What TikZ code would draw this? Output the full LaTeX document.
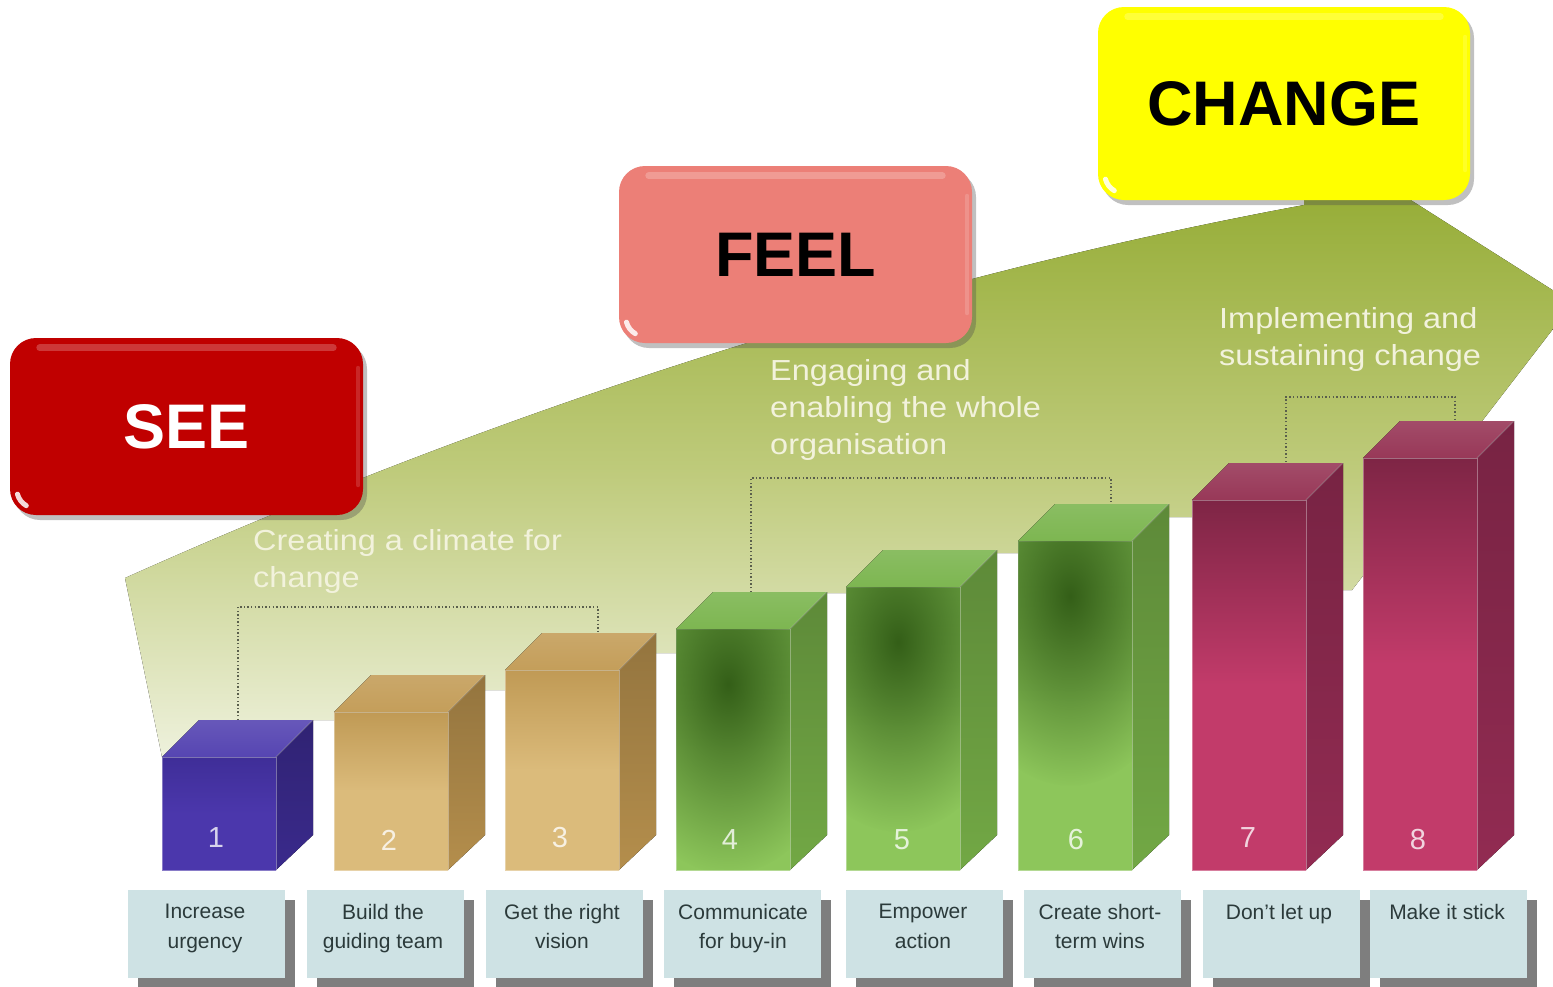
\documentclass[tikz,border=0pt]{standalone}
\usepackage{fontspec}
\setmainfont{Liberation Sans}
\usetikzlibrary{shadows,fadings,calc}
\definecolor{seered}{HTML}{C00000}
\definecolor{feelpink}{HTML}{EC7F77}
\definecolor{changeyel}{HTML}{FFFF00}
\definecolor{arrtop}{HTML}{96AD37}
\definecolor{arrmid}{HTML}{BFCB7C}
\definecolor{arrbot}{HTML}{EEF1DC}
\definecolor{lblue}{HTML}{CEE2E4}
\definecolor{lshadow}{HTML}{7E7E7E}
\definecolor{lbltxt}{HTML}{2B3A3A}
\definecolor{phasetxt}{HTML}{F2F2DC}
\definecolor{dotcol}{HTML}{5A5F4C}
% bar colours
\definecolor{purFt}{HTML}{3F2E98}\definecolor{purFb}{HTML}{4B37AC}
\definecolor{purT}{HTML}{5645B2}\definecolor{purS}{HTML}{3A2A8C}
\definecolor{golFt}{HTML}{C09A55}\definecolor{golFb}{HTML}{DBBB7B}
\definecolor{golT}{HTML}{C49E5A}\definecolor{golS}{HTML}{B48E4C}
\definecolor{grnFt}{HTML}{7DB650}\definecolor{grnFb}{HTML}{8DC65B}
\definecolor{grnT}{HTML}{7DB651}\definecolor{grnS}{HTML}{72A845}
\definecolor{grnSpot}{HTML}{345F18}
\definecolor{crmFt}{HTML}{7E2545}\definecolor{crmFb}{HTML}{C23B6A}
\definecolor{crmT}{HTML}{983858}\definecolor{crmS}{HTML}{922B52}
\tikzfading[name=spotfade, inner color=transparent!0, outer color=transparent!100]
% bar: #1 x-left, #2 y-top (front), #3 front top col, #4 front bottom col, #5 top face, #6 side
\newcommand\kotbar[6]{%
  \fill[top color=#3, bottom color=#4, middle color=#4] (#1,#2) rectangle ({#1+114},870);
  \fill[top color=#5!90!white, bottom color=#5] (#1,#2) -- ({#1+37},{#2-37}) -- ({#1+151},{#2-37}) -- ({#1+114},#2) -- cycle;
  \fill[top color=#6!82!black, bottom color=#6] ({#1+114},#2) -- ({#1+151},{#2-37}) -- ({#1+151},835) -- ({#1+114},870) -- cycle;
  \draw[white, opacity=.35, line width=1pt] (#1,870) -- (#1,#2) -- ({#1+114},#2) -- ({#1+114},870) -- cycle;
  \draw[white, opacity=.3, line width=.8pt] ({#1+114},#2) -- ({#1+151},{#2-37});
}
\newcommand\greenspot[2]{%
  \begin{scope}
    \clip (#1,#2) rectangle ({#1+114},870);
    \fill[grnSpot, path fading=spotfade] ({#1+52},{#2+55}) ellipse (125pt and 190pt);
  \end{scope}
}
\newcommand\wx[1]{\scalebox{1.12}[1]{#1}}
\begin{document}
\begin{tikzpicture}[x=1pt,y=-1pt,
  gbox/.style={rounded corners=26pt, inner sep=0pt,
     font=\fontsize{63}{63}\selectfont\bfseries,
     drop shadow={shadow xshift=4pt, shadow yshift=-5pt, opacity=.35, fill=black!70}},
  phase/.style={text=phasetxt, align=left, inner sep=0pt, anchor=north west,
     font=\fontsize{29}{37}\selectfont},
  lblbox/.style={fill=lblue, minimum width=157pt, minimum height=88pt, inner sep=0pt,
     general shadow={fill=lshadow, shadow xshift=10pt, shadow yshift=-10pt}},
  lbltext/.style={text=lbltxt, align=center, inner sep=0pt, anchor=north,
     font=\fontsize{21}{29.5}\selectfont},
  num/.style={text=white, text opacity=.78, inner sep=0pt, font=\fontsize{29}{29}\selectfont},
  bracket/.style={draw=dotcol, line width=1.3pt, dash pattern=on 1.4pt off 2.2pt}]
\useasboundingbox (0,0) rectangle (1553,986);
\fill[white] (0,0) rectangle (1553,986);

% big rising arrow
\begin{scope}
\clip (0,0) rectangle (1553,986);
\fill[top color=arrtop, bottom color=arrbot, middle color=arrmid]
  (125,578) .. controls (500,410) and (900,280) .. (1304,205) -- (1304,192) -- (1398,192)
  -- (1573,303) -- (1352,590) -- (1343,590) -- (1192,517) -- (1166,517)
  -- (1018,553) -- (996,553) -- (846,593) -- (824,593) -- (676,653) -- (654,653)
  -- (505,690) -- (484,690) -- (334,720) -- (313,720) -- (162,757) -- cycle;
\end{scope}

% phase texts
\node[phase] (ph1) at (253,529) {\wx{Creating a climate for}\\\wx{change}};
\node[phase] (ph2) at (770,359) {\wx{Engaging and}\\\wx{enabling the whole}\\\wx{organisation}};
\node[phase] (ph3) at (1219,307) {\wx{Implementing and}\\\wx{sustaining change}};

% dotted brackets
\coordinate (k1a) at (238,720); \coordinate (k1b) at (598,632);
\coordinate (k2a) at (751,592); \coordinate (k2b) at (1111,503);
\coordinate (k3a) at (1286,462); \coordinate (k3b) at (1455,420);
\draw[bracket] (k1a) -- (238,607) -- (598,607) -- (k1b);
\draw[bracket] (k2a) -- (751,478) -- (1111,478) -- (k2b);
\draw[bracket] (k3a) -- (1286,397) -- (1455,397) -- (k3b);

% bars
\kotbar{162}{757}{purFt}{purFb}{purT}{purS}
\kotbar{334}{712}{golFt}{golFb}{golT}{golS}
\kotbar{505}{670}{golFt}{golFb}{golT}{golS}
\kotbar{676}{629}{grnFt}{grnFb}{grnT}{grnS}
\greenspot{676}{629}
\kotbar{846}{587}{grnFt}{grnFb}{grnT}{grnS}
\greenspot{846}{587}
\kotbar{1018}{541}{grnFt}{grnFb}{grnT}{grnS}
\greenspot{1018}{541}
\kotbar{1192}{500}{crmFt}{crmFb}{crmT}{crmS}
\kotbar{1363}{458}{crmFt}{crmFb}{crmT}{crmS}

% numbers
\node[num] (n1) at (216,838) {1};
\node[num] (n2) at (389,840) {2};
\node[num] (n3) at (560,838) {3};
\node[num] (n4) at (730,840) {4};
\node[num] (n5) at (902,840) {5};
\node[num] (n6) at (1076,840) {6};
\node[num] (n7) at (1248,838) {7};
\node[num] (n8) at (1418,840) {8};

% label boxes
\node[lblbox] (b1) at (206.5,934) {};
\node[lblbox] (b2) at (385.5,934) {};
\node[lblbox] (b3) at (564.5,934) {};
\node[lblbox] (b4) at (742.5,934) {};
\node[lblbox] (b5) at (924.5,934) {};
\node[lblbox] (b6) at (1102.5,934) {};
\node[lblbox] (b7) at (1281.5,934) {};
\node[lblbox] (b8) at (1448.5,934) {};
\node[lbltext] (l1) at (205,904) {Increase\\urgency};
\node[lbltext] (l2) at (383,904) {Build the\\guiding team};
\node[lbltext] (l3) at (562,904) {Get the right\\vision};
\node[lbltext] (l4) at (743,904) {Communicate\\for buy-in};
\node[lbltext] (l5) at (923,904) {Empower\\action};
\node[lbltext] (l6) at (1100,904) {Create short-\\term wins};
\node[lbltext] (l7) at (1279,904) {Don't let up};
\node[lbltext] (l8) at (1447,904) {Make it stick};

% SEE / FEEL / CHANGE
\node[gbox, fill=seered, text=white, minimum width=353pt, minimum height=177pt] (see) at (186.5,426.5) {SEE};
\node[gbox, fill=feelpink, text=black, minimum width=353pt, minimum height=177pt] (feel) at (795.5,254.5) {FEEL};
\node[gbox, fill=changeyel, text=black, minimum width=372pt, minimum height=193pt] (change) at (1284,103.5) {CHANGE};
\foreach \b in {see,feel,change}{
  \draw[white, opacity=.22, line width=7pt, line cap=round] ($(\b.north west)+(30,10)$) -- ($(\b.north east)+(-30,10)$);
  \draw[white, opacity=.15, line width=4pt, line cap=round] ($(\b.north east)+(-5,30)$) -- ($(\b.south east)+(-5,-30)$);
  \draw[white, opacity=.85, line width=5pt, line cap=round] ($(\b.south west)+(26,-26)+(165:19)$) arc (165:120:19);
}
\end{tikzpicture}
\end{document}
